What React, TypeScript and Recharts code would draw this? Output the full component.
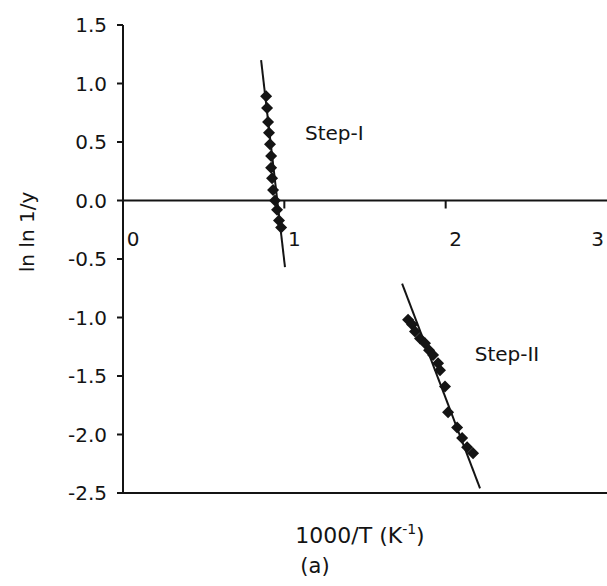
import {
  ComposedChart,
  Scatter,
  Line,
  XAxis,
  YAxis,
  ReferenceLine,
  ReferenceDot,
  Label,
} from "recharts"

// step I points (1000/T, ln ln 1/y)
const step1X = [0.887, 0.893, 0.899, 0.905, 0.911, 0.918, 0.918, 0.924, 0.93, 0.942, 0.955, 0.967, 0.98]
const step1Y = [0.89, 0.79, 0.67, 0.58, 0.48, 0.38, 0.28, 0.19, 0.09, 0.0, -0.08, -0.17, -0.23]

// step II points
const step2X = [1.767, 1.792, 1.81, 1.841, 1.872, 1.897, 1.922, 1.953, 1.965, 1.996, 2.015, 2.071, 2.102, 2.133, 2.17]
const step2Y = [-1.02, -1.06, -1.12, -1.18, -1.22, -1.28, -1.32, -1.39, -1.45, -1.59, -1.81, -1.94, -2.03, -2.11, -2.16]

// fitted lines, end points
const fit1X = [0.856, 1.004]
const fit1Y = [1.2, -0.57]
const fit2X = [1.73, 2.213]
const fit2Y = [-0.71, -2.46]

const yTicks = [-2.5, -2.0, -1.5, -1.0, -0.5, 0.0, 0.5, 1.0, 1.5]
const xTickLabels = [0, 1, 2, 3]
const xTickMarks = [1, 2]

const stepLabels = [
  { x: 1.31, y: 0.58, text: "Step-I" },
  { x: 2.38, y: -1.31, text: "Step-II" },
]

const zip = (xs: number[], ys: number[]) => xs.map((x, i) => ({ x, y: ys[i] }))

const step1 = zip(step1X, step1Y)
const step2 = zip(step2X, step2Y)
const fit1 = zip(fit1X, fit1Y)
const fit2 = zip(fit2X, fit2Y)

const FONT = "DejaVu Sans"
const INK = "#141414"

const Diamond = (props: any) => {
  const { cx, cy } = props
  const s = 6
  return (
    <polygon
      points={`${cx},${cy - s} ${cx + s},${cy} ${cx},${cy + s} ${cx - s},${cy}`}
      fill={INK}
    />
  )
}

// x tick label plus a short tick hanging from the zero line
const XTick = (props: any) => {
  const { viewBox, value } = props
  const v = Number(value)
  const last = v === xTickLabels[xTickLabels.length - 1]
  const cx = viewBox.x
  const cy = viewBox.y
  return (
    <g>
      {xTickMarks.includes(v) && (
        <rect x={cx - 1} y={cy} width={2} height={8} fill={INK} />
      )}
      <text
        x={last ? cx - 3 : cx + 10}
        y={cy + 45}
        textAnchor={last ? "end" : "middle"}
        fontSize={20}
        fontFamily={FONT}
        fill={INK}
      >
        {value}
      </text>
    </g>
  )
}

const XTitle = (props: any) => {
  const { viewBox } = props
  const y = viewBox.y
  return (
    <g fontFamily={FONT} fill={INK}>
      <text x={360} y={y + 50} textAnchor="middle" fontSize={22}>
        1000/T (K
        <tspan fontSize={14} dy={-9}>-1</tspan>
        <tspan dy={9}>)</tspan>
      </text>
      <text x={315} y={y + 80} textAnchor="middle" fontSize={21}>
        (a)
      </text>
    </g>
  )
}

const YTitle = (props: any) => {
  const { viewBox } = props
  const cx = viewBox.x + 27
  const cy = viewBox.y + viewBox.height / 2 - 27
  return (
    <text
      x={cx}
      y={cy}
      transform={`rotate(-90 ${cx} ${cy})`}
      textAnchor="middle"
      dominantBaseline="central"
      fontSize={20}
      fontFamily={FONT}
      fill={INK}
    >
      ln ln 1/y
    </text>
  )
}

export default function App() {
  return (
    <div style={{ position: "absolute", left: 0, top: 0, width: 607, height: 586, background: "#fff" }}>
      <ComposedChart width={607} height={586} margin={{ top: 25, right: 0, left: 0, bottom: 92 }}>
        <XAxis
          type="number"
          dataKey="x"
          domain={[0, 3]}
          allowDataOverflow
          tick={false}
          tickLine={false}
          height={1}
          axisLine={{ stroke: INK, strokeWidth: 2 }}
        >
          <Label content={<XTitle />} />
        </XAxis>
        <YAxis
          type="number"
          dataKey="y"
          domain={[-2.5, 1.5]}
          ticks={yTicks}
          allowDataOverflow
          width={123}
          tickFormatter={(v: number) => v.toFixed(1)}
          tick={{ fontSize: 20, fontFamily: FONT, fill: INK }}
          tickSize={6}
          tickMargin={10}
          tickLine={{ stroke: INK, strokeWidth: 2 }}
          axisLine={{ stroke: INK, strokeWidth: 2 }}
        >
          <Label content={<YTitle />} />
        </YAxis>

        <ReferenceLine y={0} stroke={INK} strokeWidth={2} />
        {xTickLabels.map((v) => (
          <ReferenceDot
            key={`tl${v}`}
            x={v}
            y={0}
            r={0}
            fill="none"
            stroke="none"
            ifOverflow="visible"
            label={<XTick value={String(v)} />}
          />
        ))}

        <Line data={fit1} dataKey="y" type="linear" stroke={INK} strokeWidth={2} dot={false} activeDot={false} isAnimationActive={false} />
        <Line data={fit2} dataKey="y" type="linear" stroke={INK} strokeWidth={2} dot={false} activeDot={false} isAnimationActive={false} />
        <Scatter data={step1} dataKey="y" shape={<Diamond />} isAnimationActive={false} />
        <Scatter data={step2} dataKey="y" shape={<Diamond />} isAnimationActive={false} />

        {stepLabels.map((s) => (
          <ReferenceDot
            key={s.text}
            x={s.x}
            y={s.y}
            r={0}
            fill="none"
            stroke="none"
            label={{ value: s.text, position: "center", fontSize: 20, fontFamily: FONT, fill: INK }}
          />
        ))}
      </ComposedChart>
    </div>
  )
}
